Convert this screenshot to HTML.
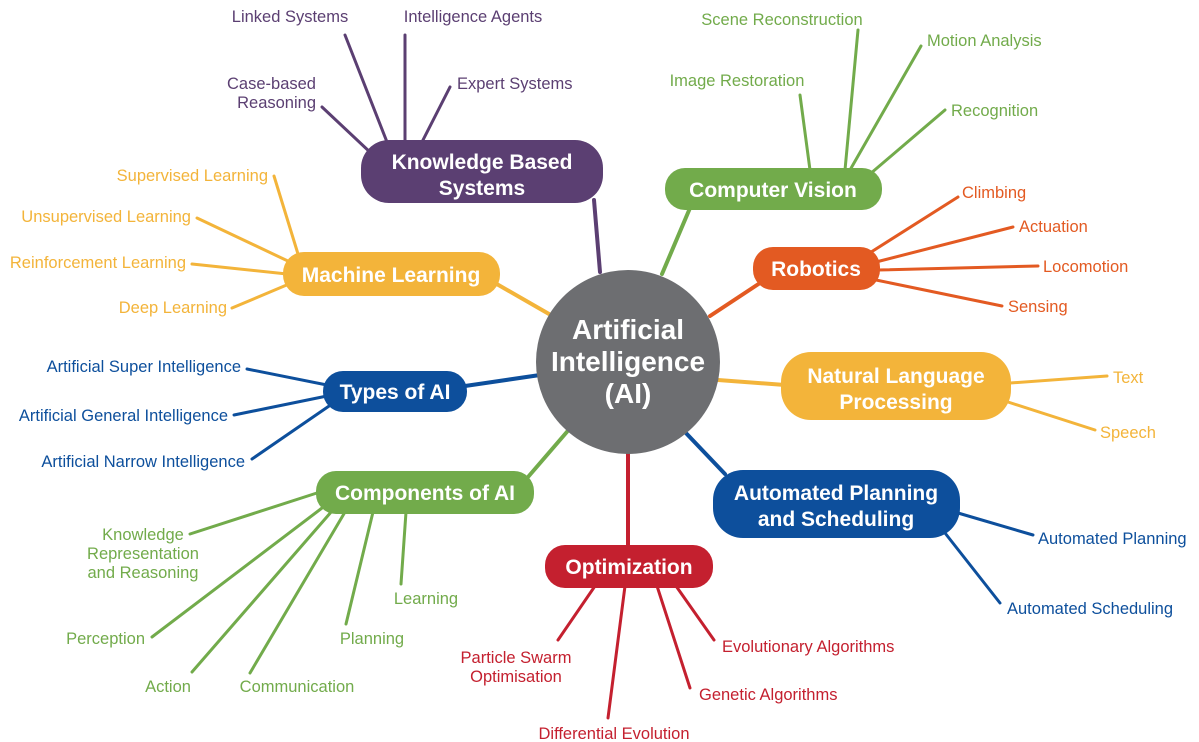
<!DOCTYPE html>
<html><head><meta charset="utf-8"><style>
html,body{margin:0;padding:0;background:#fff;}
svg{display:block;font-family:"Liberation Sans",sans-serif;}
.l{font-size:16.5px;}
.n{font-size:21px;font-weight:bold;fill:#fff;text-anchor:middle;}
</style></head><body>
<svg width="1199" height="742" viewBox="0 0 1199 742">
<g stroke-width="4" stroke-linecap="round" fill="none">
<line x1="594" y1="200" x2="600" y2="272" stroke="#5b3f72"/>
<line x1="690" y1="208" x2="662" y2="274" stroke="#72ab4b"/>
<line x1="495" y1="283" x2="549" y2="314" stroke="#f3b43a"/>
<line x1="760" y1="283" x2="710" y2="316" stroke="#e35a22"/>
<line x1="465" y1="386" x2="540" y2="375" stroke="#0d4f9c"/>
<line x1="785" y1="385" x2="718" y2="380" stroke="#f3b43a"/>
<line x1="528" y1="477" x2="572" y2="426" stroke="#72ab4b"/>
<line x1="725" y1="474" x2="684" y2="431" stroke="#0d4f9c"/>
<line x1="628" y1="547" x2="628" y2="450" stroke="#c4202f"/>
</g>
<g stroke-width="3" stroke-linecap="round" fill="none">
<g stroke="#5b3f72">
<line x1="345" y1="35" x2="387" y2="142"/><line x1="405" y1="35" x2="405" y2="142"/>
<line x1="450" y1="87" x2="422" y2="142"/><line x1="322" y1="107" x2="372" y2="154"/>
</g>
<g stroke="#72ab4b">
<line x1="858" y1="30" x2="845" y2="170"/><line x1="921" y1="46" x2="850" y2="170"/>
<line x1="800" y1="95" x2="810" y2="170"/><line x1="945" y1="110" x2="870" y2="174"/>
<line x1="190" y1="534" x2="320" y2="492"/><line x1="152" y1="637" x2="322" y2="508"/>
<line x1="192" y1="672" x2="332" y2="511"/><line x1="250" y1="673" x2="345" y2="512"/>
<line x1="346" y1="624" x2="373" y2="512"/><line x1="401" y1="584" x2="406" y2="512"/>
</g>
<g stroke="#e35a22">
<line x1="958" y1="197" x2="868" y2="254"/><line x1="1013" y1="227" x2="876" y2="262"/>
<line x1="1038" y1="266" x2="878" y2="270"/><line x1="1002" y1="306" x2="876" y2="280"/>
</g>
<g stroke="#f3b43a">
<line x1="274" y1="176" x2="298" y2="254"/><line x1="197" y1="218" x2="290" y2="262"/>
<line x1="192" y1="264" x2="287" y2="274"/><line x1="232" y1="308" x2="289" y2="284"/>
<line x1="1010" y1="383" x2="1107" y2="376"/><line x1="1008" y1="402" x2="1095" y2="430"/>
</g>
<g stroke="#0d4f9c">
<line x1="247" y1="369" x2="327" y2="385"/><line x1="234" y1="415" x2="327" y2="396"/>
<line x1="252" y1="459" x2="332" y2="404"/>
<line x1="958" y1="513" x2="1033" y2="535"/><line x1="945" y1="533" x2="1000" y2="603"/>
</g>
<g stroke="#c4202f">
<line x1="558" y1="640" x2="595" y2="586"/><line x1="608" y1="718" x2="625" y2="586"/>
<line x1="690" y1="688" x2="657" y2="586"/><line x1="714" y1="640" x2="676" y2="586"/>
</g>
</g>
<circle cx="628" cy="362" r="92" fill="#6d6e71"/>
<g font-size="28" font-weight="bold" fill="#fff" text-anchor="middle">
<text x="628" y="339">Artificial</text><text x="628" y="371">Intelligence</text><text x="628" y="403">(AI)</text>
</g>
<rect x="361" y="140" width="242" height="63" rx="28" fill="#5b3f72"/>
<text class="n" x="482" y="169">Knowledge Based</text><text class="n" x="482" y="195">Systems</text>
<rect x="665" y="168" width="217" height="42" rx="20" fill="#72ab4b"/>
<text class="n" x="773" y="197">Computer Vision</text>
<rect x="283" y="252" width="217" height="44" rx="21" fill="#f3b43a"/>
<text class="n" x="391" y="282">Machine Learning</text>
<rect x="753" y="247" width="127" height="43" rx="20" fill="#e35a22"/>
<text class="n" x="816" y="276">Robotics</text>
<rect x="323" y="371" width="144" height="41" rx="20" fill="#0d4f9c"/>
<text class="n" x="395" y="399">Types of AI</text>
<rect x="781" y="352" width="230" height="68" rx="30" fill="#f3b43a"/>
<text class="n" x="896" y="383">Natural Language</text><text class="n" x="896" y="409">Processing</text>
<rect x="316" y="471" width="218" height="43" rx="20" fill="#72ab4b"/>
<text class="n" x="425" y="500">Components of AI</text>
<rect x="713" y="470" width="247" height="68" rx="30" fill="#0d4f9c"/>
<text class="n" x="836" y="500">Automated Planning</text><text class="n" x="836" y="526">and Scheduling</text>
<rect x="545" y="545" width="168" height="43" rx="20" fill="#c4202f"/>
<text class="n" x="629" y="574">Optimization</text>
<g class="l" fill="#5b3f72">
<text x="290" y="22" text-anchor="middle">Linked Systems</text>
<text x="473" y="22" text-anchor="middle">Intelligence Agents</text>
<text x="457" y="89">Expert Systems</text>
<text x="316" y="89" text-anchor="end">Case-based</text><text x="316" y="108" text-anchor="end">Reasoning</text>
</g>
<g class="l" fill="#72ab4b">
<text x="782" y="25" text-anchor="middle">Scene Reconstruction</text>
<text x="927" y="46">Motion Analysis</text>
<text x="737" y="86" text-anchor="middle">Image Restoration</text>
<text x="951" y="116">Recognition</text>
<text x="143" y="540" text-anchor="middle">Knowledge</text><text x="143" y="559" text-anchor="middle">Representation</text><text x="143" y="578" text-anchor="middle">and Reasoning</text>
<text x="145" y="644" text-anchor="end">Perception</text>
<text x="168" y="692" text-anchor="middle">Action</text>
<text x="297" y="692" text-anchor="middle">Communication</text>
<text x="372" y="644" text-anchor="middle">Planning</text>
<text x="426" y="604" text-anchor="middle">Learning</text>
</g>
<g class="l" fill="#e35a22">
<text x="962" y="198">Climbing</text><text x="1019" y="232">Actuation</text>
<text x="1043" y="272">Locomotion</text><text x="1008" y="312">Sensing</text>
</g>
<g class="l" fill="#f3b43a" text-anchor="end">
<text x="268" y="181">Supervised Learning</text>
<text x="191" y="222">Unsupervised Learning</text>
<text x="186" y="268">Reinforcement Learning</text>
<text x="227" y="313">Deep Learning</text>
</g>
<g class="l" fill="#f3b43a">
<text x="1113" y="383">Text</text><text x="1100" y="438">Speech</text>
</g>
<g class="l" fill="#0d4f9c">
<text x="241" y="372" text-anchor="end">Artificial Super Intelligence</text>
<text x="228" y="421" text-anchor="end">Artificial General Intelligence</text>
<text x="245" y="467" text-anchor="end">Artificial Narrow Intelligence</text>
<text x="1038" y="544">Automated Planning</text>
<text x="1007" y="614">Automated Scheduling</text>
</g>
<g class="l" fill="#c4202f">
<text x="516" y="663" text-anchor="middle">Particle Swarm</text><text x="516" y="682" text-anchor="middle">Optimisation</text>
<text x="614" y="739" text-anchor="middle">Differential Evolution</text>
<text x="699" y="700">Genetic Algorithms</text>
<text x="722" y="652">Evolutionary Algorithms</text>
</g>
</svg>
</body></html>
